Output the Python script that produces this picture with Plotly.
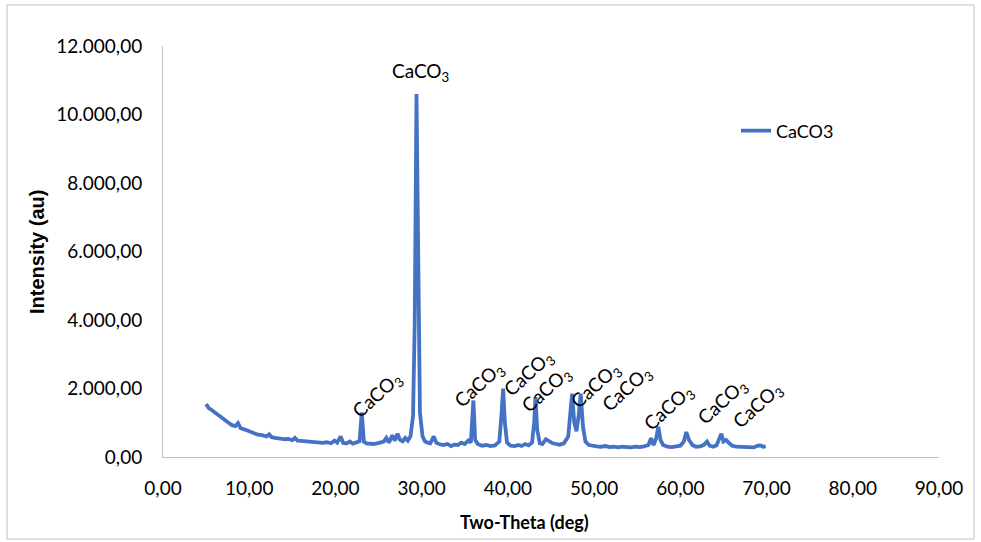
import plotly.graph_objects as go

# ---- data ----
two_theta = [5.0, 5.3, 5.6, 6.0, 6.4, 6.8, 7.2, 7.6, 8.0, 8.4, 8.7, 9.0, 9.5, 10.0, 10.5, 11.0, 11.5, 12.0, 12.3, 12.6,
             13.0, 13.5, 14.0, 14.5, 15.0, 15.3, 15.6, 16.0, 16.5, 17.0, 17.5, 18.0, 18.5, 19.0, 19.5, 19.9, 20.2, 20.6,
             20.9, 21.3, 21.7, 22.0, 22.4, 22.8, 23.05, 23.3, 23.6, 24.0, 24.4, 24.8, 25.2, 25.6, 25.9, 26.2, 26.6, 26.9,
             27.2, 27.5, 27.8, 28.1, 28.4, 28.7, 29.0, 29.2, 29.4, 29.6, 29.8, 30.1, 30.4, 30.7, 31.0, 31.4, 31.7, 32.0,
             32.5, 33.0, 33.4, 33.8, 34.2, 34.6, 35.0, 35.4, 35.7, 36.0, 36.2, 36.5, 37.0, 37.5, 38.0, 38.5, 39.0, 39.25,
             39.45, 39.65, 39.9, 40.3, 40.8, 41.2, 41.6, 42.0, 42.4, 42.8, 43.05, 43.2, 43.4, 43.7, 44.0, 44.4, 44.8, 45.2,
             45.6, 46.0, 46.5, 47.0, 47.25, 47.45, 47.7, 47.95, 48.2, 48.45, 48.7, 49.0, 49.4, 49.8, 50.3, 50.8, 51.3,
             51.8, 52.3, 52.8, 53.3, 53.8, 54.3, 54.8, 55.3, 55.8, 56.3, 56.6, 56.9, 57.2, 57.45, 57.7, 58.0, 58.5, 59.0,
             59.5, 60.0, 60.4, 60.7, 61.0, 61.4, 61.8, 62.3, 62.7, 63.1, 63.4, 63.8, 64.2, 64.5, 64.75, 65.0, 65.3, 65.6,
             66.0, 66.5, 67.0, 67.5, 68.0, 68.5, 69.0, 69.3, 69.6, 69.9]
intensity = [1550, 1430, 1380, 1300, 1220, 1130, 1060, 1000, 930, 900, 990, 840, 800, 740, 700, 650, 640, 600, 660, 580,
             560, 540, 520, 530, 490, 560, 480, 470, 460, 450, 430, 440, 410, 430, 400, 480, 420, 600,
             410, 400, 450, 390, 420, 460, 1300, 450, 400, 390, 380, 400, 420, 450, 560, 420, 630, 480,
             680, 500, 460, 560, 480, 600, 1200, 4000, 10600, 4500, 1300, 600, 450, 420, 400, 600, 420, 380,
             350, 380, 320, 360, 350, 420, 380, 480, 420, 1650, 500, 380, 330, 350, 320, 340, 450, 1200,
             2000, 1000, 420, 330, 320, 350, 320, 380, 340, 420, 1000, 1750, 800, 400, 380, 520, 450, 400,
             380, 360, 400, 600, 1300, 1850, 1000, 750, 1200, 1850, 900, 450, 350, 320, 310, 300, 320,
             290, 300, 280, 300, 290, 280, 300, 290, 310, 350, 550, 350, 550, 880, 500, 350, 300, 290,
             310, 330, 450, 730, 500, 350, 300, 310, 350, 450, 330, 300, 340, 500, 680, 450, 500, 420,
             330, 300, 290, 300, 290, 280, 330, 340, 300, 310]

series_name = "CaCO3"
peak_labels = ["CaCO<sub>3</sub>"] * 10
peak_x = [23.05, 29.4, 36.0, 39.45, 43.2, 47.45, 48.45, 57.45, 60.7, 64.75]
peak_y = [1300, 10600, 1650, 2000, 1750, 1850, 1850, 880, 730, 680]
label_angle = [-42, 0, -42, -42, -42, -42, -42, -42, -42, -42]
label_dx = [16, 4, 6, 25, 11, 23, 46, 10, 36, 36]
label_dy = [17, 22, 15, 15, 7, 8, 5, 19, 30, 28]

x_ticks = [0, 10, 20, 30, 40, 50, 60, 70, 80, 90]
y_ticks = [0, 2000, 4000, 6000, 8000, 10000, 12000]

BLUE = "#4472C4"
AXIS = "#BFBFBF"
FONT = "Lato"

fig = go.Figure()
fig.add_trace(go.Scatter(x=two_theta, y=intensity, mode="lines", name=series_name,
                         line=dict(color=BLUE, width=3.8)))

for lab, px, py, ang, dx, dy in zip(peak_labels, peak_x, peak_y, label_angle, label_dx, label_dy):
    fig.add_annotation(x=px, y=py, xref="x", yref="y", text=lab, showarrow=False,
                       textangle=ang, xshift=dx, yshift=dy, xanchor="center", yanchor="middle",
                       font=dict(family=FONT, size=19, color="#000000"))

L, R, T, B = 163, 42, 46, 85
W, H = 981, 542
pw, ph = W - L - R, H - T - B

# axis titles
fig.add_annotation(text="<b>Two-Theta (deg)</b>", xref="paper", yref="paper",
                   x=(524 - L) / pw, y=(H - B - 522) / ph, showarrow=False,
                   xanchor="center", yanchor="middle",
                   font=dict(family=FONT, size=18, color="#000000"))
fig.add_annotation(text="<b>Intensity (au)</b>", xref="paper", yref="paper", textangle=-90,
                   x=(37 - L) / pw, y=(H - B - 252) / ph, showarrow=False,
                   xanchor="center", yanchor="middle",
                   font=dict(family="Liberation Sans", size=20, color="#000000"))

# outer chart border
fig.add_shape(type="rect", xref="paper", yref="paper",
              x0=(7 - L) / pw, x1=(974 - L) / pw, y0=(H - B - 539) / ph, y1=(H - B - 5) / ph,
              line=dict(color=AXIS, width=1))

fig.update_layout(
    width=W, height=H, autosize=False,
    margin=dict(l=L, r=R, t=T, b=B),
    paper_bgcolor="white", plot_bgcolor="white",
    separators=",.",
    showlegend=True,
    legend=dict(x=(736 - L) / pw, y=(H - B - 131) / ph, xanchor="left", yanchor="middle",
                font=dict(family=FONT, size=18, color="#000000"), bgcolor="rgba(0,0,0,0)"),
    font=dict(family=FONT, color="#000000"),
)
fig.update_xaxes(range=[0, 90], tickvals=x_ticks, tickformat=",.2f", showgrid=False, zeroline=False,
                 showline=True, linecolor=AXIS, linewidth=1, ticks="",
                 tickfont=dict(family=FONT, size=19, color="#000000"), ticklabelstandoff=14)
fig.update_yaxes(range=[0, 12000], tickvals=y_ticks, tickformat=",.2f", showgrid=False, zeroline=False,
                 showline=True, linecolor=AXIS, linewidth=1, ticks="",
                 tickfont=dict(family=FONT, size=19, color="#000000"), ticklabelstandoff=16)

fig.write_html("out.html", config={"displayModeBar": False},
               post_script="document.body.style.margin='0px';")
